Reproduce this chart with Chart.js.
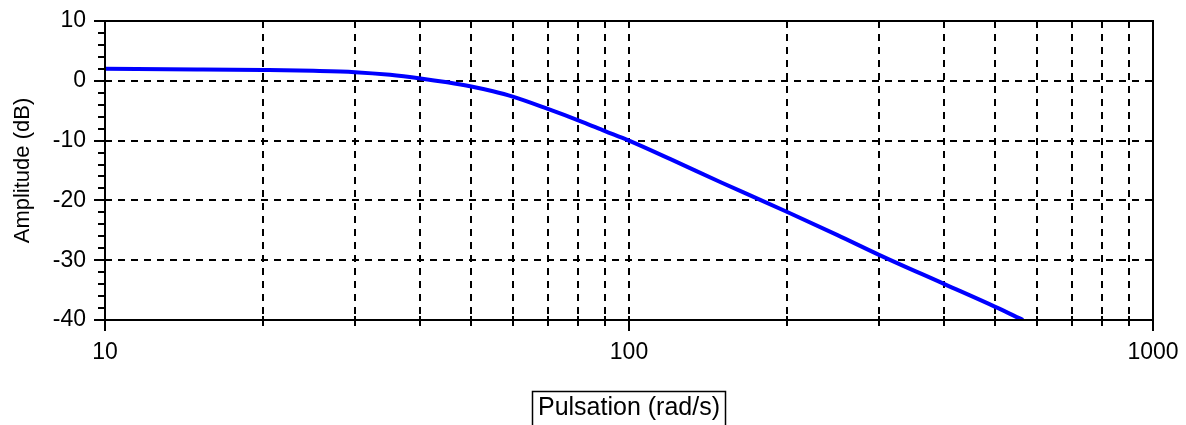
<!DOCTYPE html>
<html><head><meta charset="utf-8">
<script src="https://cdn.jsdelivr.net/npm/chart.js@4"></script>
<style>html,body{margin:0;padding:0;background:#fff;overflow:hidden}canvas{display:block}</style>
</head><body>
<canvas id="c" width="1186" height="425"></canvas>
<script>
const pulsation   = [10, 15, 20, 25, 30, 35, 40, 45, 50, 55, 60, 70, 80, 90, 100, 120, 150, 178, 200, 250, 300, 400, 500, 565];
const amplitudeDb = [2.0, 1.9, 1.8, 1.67, 1.45, 1.0, 0.4, -0.25, -0.95, -1.75, -2.65, -4.7, -6.6, -8.4, -10.0, -13.1, -17.0, -19.9, -21.9, -25.8, -29.1, -34.0, -37.8, -40.0];
const xMajorTicks = [10, 100, 1000];
const xMinorTicks = [20, 30, 40, 50, 60, 70, 80, 90, 200, 300, 400, 500, 600, 700, 800, 900];
const yMajorTicks = [-40, -30, -20, -10, 0, 10];
const yMinorTicks = [-38, -36, -34, -32, -28, -26, -24, -22, -18, -16, -14, -12, -8, -6, -4, -2, 2, 4, 6, 8];
const yGridLines  = [-30, -20, -10, 0];
const xGridLines  = [20, 30, 40, 50, 60, 70, 80, 90, 100, 200, 300, 400, 500, 600, 700, 800, 900];
const xTitle = 'Pulsation (rad/s)';
const yTitle = 'Amplitude (dB)';

const FONT = "'Liberation Sans', Arial, sans-serif";

const framePlugin = {
  id: 'frame',
  beforeDatasetsDraw(chart) {
    const {ctx, chartArea: a, scales: {x, y}} = chart;
    ctx.save();
    ctx.strokeStyle = '#000';
    ctx.lineWidth = 2;
    ctx.setLineDash([7, 6]);
    xGridLines.forEach(v => {
      const px = Math.round(x.getPixelForValue(v));
      ctx.beginPath(); ctx.moveTo(px, a.top); ctx.lineTo(px, a.bottom); ctx.stroke();
    });
    yGridLines.forEach(v => {
      const py = Math.round(y.getPixelForValue(v));
      ctx.beginPath(); ctx.moveTo(a.left, py); ctx.lineTo(a.right, py); ctx.stroke();
    });
    ctx.restore();
  },
  afterDatasetsDraw(chart) {
    const {ctx, chartArea: a, scales: {x, y}} = chart;
    ctx.save();
    ctx.strokeStyle = '#000';
    ctx.lineWidth = 2;
    ctx.setLineDash([]);
    ctx.strokeRect(a.left, a.top, a.right - a.left, a.bottom - a.top);
    ctx.beginPath();
    yMajorTicks.forEach(v => {
      const py = Math.round(y.getPixelForValue(v));
      ctx.moveTo(a.left - 11, py); ctx.lineTo(a.left + 5, py);
    });
    yMinorTicks.forEach(v => {
      const py = Math.round(y.getPixelForValue(v));
      ctx.moveTo(a.left - 7, py); ctx.lineTo(a.left, py);
    });
    xMinorTicks.forEach(v => {
      const px = Math.round(x.getPixelForValue(v));
      ctx.moveTo(px, a.bottom - 4); ctx.lineTo(px, a.bottom + 6);
    });
    xMajorTicks.forEach(v => {
      const px = Math.round(x.getPixelForValue(v));
      ctx.moveTo(px, a.bottom - 4); ctx.lineTo(px, a.bottom + 11);
    });
    ctx.stroke();
    // box around x title
    ctx.font = '25px ' + FONT;
    const w = ctx.measureText(xTitle).width;
    const cx = (a.left + a.right) / 2;
    ctx.lineWidth = 1.5;
    ctx.strokeRect(Math.round(cx - w / 2 - 6) + 0.5, 391.5, Math.round(w + 11), 40);
    ctx.restore();
  }
};

new Chart(document.getElementById('c'), {
  type: 'line',
  data: {
    labels: pulsation,
    datasets: [{
      data: pulsation.map((p, i) => ({x: p, y: amplitudeDb[i]})),
      borderColor: '#0000ff',
      borderWidth: 4,
      pointRadius: 0,
      fill: false,
      cubicInterpolationMode: 'monotone'
    }]
  },
  options: {
    responsive: false,
    animation: false,
    devicePixelRatio: 1,
    layout: {padding: {top: 21, right: 33, left: 0, bottom: 0}},
    plugins: {legend: {display: false}, tooltip: {enabled: false}},
    scales: {
      x: {
        type: 'logarithmic',
        min: 10, max: 1000,
        afterFit(s) { s.height = 105; s.paddingLeft = 0; s.paddingRight = 0; },
        afterBuildTicks(s) { s.ticks = xMajorTicks.map(v => ({value: v})); },
        grid: {display: false, drawTicks: false},
        border: {display: false},
        ticks: {
          autoSkip: false, maxRotation: 0, padding: 19, color: '#000',
          font: {family: FONT, size: 23},
          callback: v => String(v)
        },
        title: {display: true, text: xTitle, color: '#000', font: {family: FONT, size: 25}, padding: {top: 0, bottom: 2}}
      },
      y: {
        type: 'linear',
        min: -40, max: 10,
        afterFit(s) { s.width = 105; s.paddingTop = 0; s.paddingBottom = 0; },
        afterBuildTicks(s) { s.ticks = yMajorTicks.map(v => ({value: v})); },
        grid: {display: false, drawTicks: false},
        border: {display: false},
        ticks: {padding: 19, color: '#000', font: {family: FONT, size: 23}},
        title: {display: true, text: yTitle, color: '#000', font: {family: FONT, size: 22}, padding: {top: 10, bottom: 0}}
      }
    }
  },
  plugins: [framePlugin]
});
</script>
</body></html>
